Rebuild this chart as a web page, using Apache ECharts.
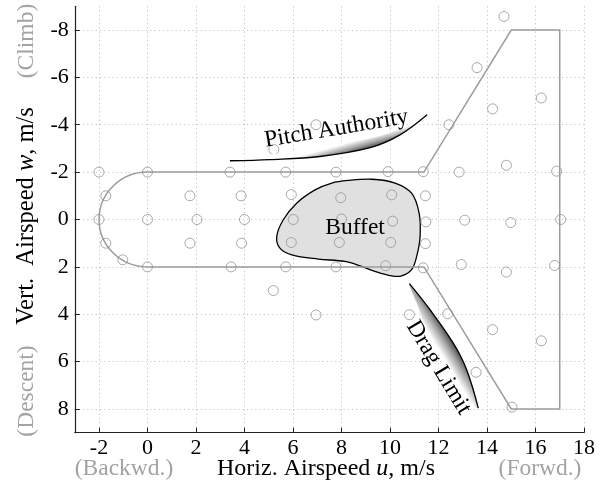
<!DOCTYPE html>
<html><head><meta charset="utf-8">
<script src="https://cdn.jsdelivr.net/npm/echarts@6/dist/echarts.min.js"></script>
<style>html,body{margin:0;padding:0;background:#fff}#c{width:605px;height:486px}</style>
</head><body><div id="c"></div>
<script>
// ---- tick labels ----
const xTicks = [-2, 0, 2, 4, 6, 8, 10, 12, 14, 16, 18];
const yTicks = [-8, -6, -4, -2, 0, 2, 4, 6, 8];

// ---- test points (u, w) ----
const pointsU = [-2, -1.72, -2, -1.72, -1.02, 0, 0, 0, 1.75, 2.04, 1.75, 3.45, 3.4, 3.86, 4.0, 3.88,
  5.21, 5.19, 5.7, 5.7, 5.93, 6.01, 5.93, 6.95, 6.95, 7.77, 7.97, 8.0, 7.91, 7.77,
  9.92, 10.07, 10.11, 10.03, 9.82, 11.37, 11.46, 11.48, 11.46, 11.37, 10.8, 12.43, 12.38,
  12.85, 12.94, 13.08, 13.59, 13.55, 14.23, 14.23, 14.7, 15.03, 14.8, 14.8, 14.98,
  16.24, 16.24, 16.87, 16.79, 17.04];
const pointsW = [-2, -1, 0, 1, 1.7, 2, -2, 0, -1, 0, 1, 2, -2, -1, 0, 1,
  -2.95, 3.0, -2, 2, -1.05, 0, 0.97, -4.0, 4.03, -2, -0.92, -0.02, 0.97, 2,
  -2.02, -1.04, 0.07, 0.97, 1.95, -2.02, -1.0, 0.1, 1.02, 2.04, 4.02, -4.0, 3.98,
  -2.0, 1.9, 0.03, -6.41, 6.45, -4.67, 4.65, -8.57, 7.92, -2.29, 2.22, 0.13,
  -5.13, 5.12, -2.04, 1.94, 0];

// ---- flight envelope (straight part) + left semicircle radius ----
const envelopeU = [0, 11.4, 15, 17, 17, 15, 11.4, 0];
const envelopeW = [-2, -2, -8, -8, 8, 8, 2, 2];
const envelopeArc = [2, 2]; // radii (u, w) of the rounded backward end, centred at origin

// ---- buffet region outline ----
const buffetU = [8.28, 9.25, 10.21, 10.89, 11.2, 11.24, 11.1, 10.89, 10.48, 10.07, 9.38, 8.83, 8.14, 7.04, 5.95, 5.46, 5.33, 5.6, 6.15, 6.91, 7.6];
const buffetW = [-1.65, -1.70, -1.54, -1.11, -0.27, 0.72, 1.56, 2.12, 2.38, 2.38, 2.19, 1.98, 1.77, 1.67, 1.49, 1.21, 0.72, 0.01, -0.69, -1.25, -1.54];

// ---- pitch authority limit ----
const pitchU = [3.40, 5.05, 7.11, 9.18, 10.41, 11.53];
const pitchW = [-2.48, -2.53, -2.66, -3.03, -3.57, -4.42];
const pitchInnerU = [3.40, 5.8, 7.9, 9.5, 10.6, 11.53];
const pitchInnerW = [-2.48, -2.85, -3.2, -3.5, -3.9, -4.42];

// ---- drag limit ----
const dragU = [10.80, 11.65, 12.61, 13.16, 13.64];
const dragW = [2.71, 3.81, 5.22, 6.34, 7.96];
const dragInnerU = [10.80, 11.1, 11.65, 12.33, 13.02, 13.64];
const dragInnerW = [2.71, 3.53, 5.0, 6.34, 7.47, 7.96];

// ---- annotation texts ----
const labelTexts = ['Buffet', 'Pitch Authority', 'Drag Limit'];
const labelAnchors = [[8.56, 0.37], [7.79, -3.83], [12.0, 6.25]];
const labelAngles = [0, 9.5, -59];

const SERIF = '"Liberation Serif", "Times New Roman", serif';
const GRAY = '#a3a3a3';
const chart = echarts.init(document.getElementById('c'), null, {renderer: 'canvas'});

function pts(api, us, ws) { return us.map((u, i) => api.coord([u, ws[i]])); }

const option = {
  animation: false,
  backgroundColor: '#fff',
  grid: {left: 74.75, right: 21, top: 6.3, bottom: 53.3, containLabel: false, outerBoundsMode: 'none'},
  xAxis: {
    type: 'value', min: -3, max: 18, interval: 1,
    axisLine: {show: true, onZero: false, lineStyle: {color: '#222', width: 1.2}},
    axisTick: {show: true, inside: true, length: 5, customValues: xTicks, lineStyle: {color: '#222', width: 1}},
    axisLabel: {show: true, customValues: xTicks, fontFamily: SERIF, fontSize: 22, color: '#000', margin: 5},
    splitLine: {show: true, lineStyle: {color: '#c4c4c4', width: 1, type: [1.2, 3]}}
  },
  yAxis: {
    type: 'value', min: -9, max: 9, interval: 1, inverse: true,
    axisLine: {show: true, onZero: false, lineStyle: {color: '#222', width: 1.2}},
    axisTick: {show: true, inside: true, length: 5, customValues: yTicks, lineStyle: {color: '#222', width: 1}},
    axisLabel: {show: true, customValues: yTicks, fontFamily: SERIF, fontSize: 22, color: '#000', margin: 6},
    splitLine: {show: true, lineStyle: {color: '#c4c4c4', width: 1, type: [1.2, 3]}}
  },
  series: [
    { // buffet region
      type: 'custom', silent: true, data: [[0, 0]], z: 2,
      renderItem: (p, api) => ({
        type: 'polygon',
        shape: {points: pts(api, buffetU, buffetW), smooth: 0.35},
        style: {fill: '#e0e0e0', stroke: '#000', lineWidth: 1.3}
      })
    },
    { // envelope
      type: 'custom', silent: true, data: [[0, 0]], z: 3,
      renderItem: (p, api) => {
        const q = pts(api, envelopeU, envelopeW);
        const r = api.size(envelopeArc);
        let d = 'M' + q[0][0] + ' ' + q[0][1];
        for (let i = 1; i < q.length; i++) d += ' L' + q[i][0] + ' ' + q[i][1];
        d += ' A' + r[0] + ' ' + r[1] + ' 0 0 1 ' + q[0][0] + ' ' + q[0][1];
        return {type: 'path', shape: {pathData: d}, style: {fill: null, stroke: '#9c9c9c', lineWidth: 1.5}};
      }
    },
    { // test points
      type: 'scatter', silent: true, z: 4,
      data: pointsU.map((u, i) => [u, pointsW[i]]),
      symbol: 'circle', symbolSize: 10,
      itemStyle: {color: 'rgba(255,255,255,0)', borderColor: '#949494', borderWidth: 1}
    },
    { // limit annotations
      type: 'custom', silent: true, data: [[0, 0]], z: 5,
      renderItem: (p, api) => {
        const pc = pts(api, pitchU, pitchW), pi = pts(api, pitchInnerU, pitchInnerW);
        const dc = pts(api, dragU, dragW), di = pts(api, dragInnerU, dragInnerW);
        const pd = api.coord([9.18, -3.03]), pw = api.coord([9.06, -3.47]);
        const dd = api.coord([12.61, 5.22]), dw = api.coord([12.05, 5.57]);
        const stops = [{offset: 0, color: '#505050'}, {offset: 0.4, color: '#a0a0a0'}, {offset: 1, color: '#ffffff'}];
        const children = [
          {type: 'polygon', shape: {points: pc.concat(pi.slice(1, -1).reverse()), smooth: 0.3},
            style: {fill: new echarts.graphic.LinearGradient(pd[0], pd[1], pw[0], pw[1], stops, true)}},
          {type: 'polyline', shape: {points: pc, smooth: 0.35}, style: {fill: null, stroke: '#000', lineWidth: 1.3}},
          {type: 'polygon', shape: {points: dc.concat(di.slice(1, -1).reverse()), smooth: 0.3},
            style: {fill: new echarts.graphic.LinearGradient(dd[0], dd[1], dw[0], dw[1], stops, true)}},
          {type: 'polyline', shape: {points: dc, smooth: 0.35}, style: {fill: null, stroke: '#000', lineWidth: 1.3}}
        ];
        labelTexts.forEach((t, i) => {
          const c = api.coord(labelAnchors[i]);
          children.push({type: 'text', x: c[0], y: c[1], rotation: labelAngles[i] * Math.PI / 180,
            style: {text: t, fontFamily: SERIF, fontSize: 23.5, fill: '#000', align: 'center', verticalAlign: 'middle'}});
        });
        return {type: 'group', children};
      }
    }
  ],
  graphic: [
    {type: 'text', x: 326, y: 469, style: {text: 'Horiz. Airspeed {i|u}, m/s', fontFamily: SERIF, fontSize: 24, fill: '#000', align: 'center', verticalAlign: 'middle',
      rich: {i: {fontFamily: SERIF, fontSize: 24, fontStyle: 'italic', fill: '#000'}}}},
    {type: 'text', x: 124, y: 469, style: {text: '(Backwd.)', fontFamily: SERIF, fontSize: 23.5, fill: GRAY, align: 'center', verticalAlign: 'middle'}},
    {type: 'text', x: 540, y: 469, style: {text: '(Forwd.)', fontFamily: SERIF, fontSize: 23.5, fill: GRAY, align: 'center', verticalAlign: 'middle'}},
    {type: 'text', x: 27, y: 216, rotation: Math.PI / 2, style: {text: 'Vert.  Airspeed {i|w}, m/s', fontFamily: SERIF, fontSize: 24.5, fill: '#000', align: 'center', verticalAlign: 'middle',
      rich: {i: {fontFamily: SERIF, fontSize: 24.5, fontStyle: 'italic', fill: '#000'}}}},
    {type: 'text', x: 27, y: 41, rotation: Math.PI / 2, style: {text: '(Climb)', fontFamily: SERIF, fontSize: 23.5, fill: GRAY, align: 'center', verticalAlign: 'middle'}},
    {type: 'text', x: 27, y: 391, rotation: Math.PI / 2, style: {text: '(Descent)', fontFamily: SERIF, fontSize: 23.5, fill: GRAY, align: 'center', verticalAlign: 'middle'}}
  ]
};
chart.setOption(option);
</script>
</body></html>
